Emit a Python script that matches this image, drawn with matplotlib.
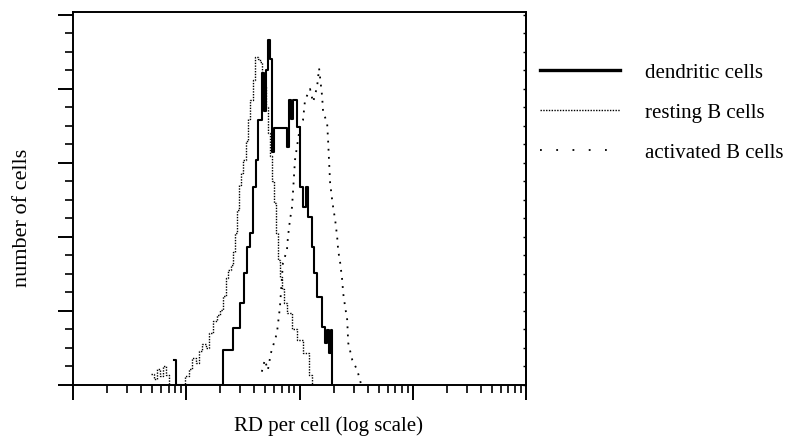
import matplotlib
matplotlib.use("Agg")
import numpy as np
from matplotlib import pyplot as plt
from matplotlib.lines import Line2D
from matplotlib.ticker import MultipleLocator, LogLocator, NullFormatter

plt.rcParams['font.family'] = ['Liberation Serif', 'DejaVu Serif']

# histogram bins: left bin edge (RD per cell) and number of cells
dendritic_x = [7.87, 8.19, 20.97, 25.72, 29.67, 32.19, 34.22, 36.39, 38.70, 41.14,
               42.85, 46.49, 48.43, 50.45, 52.55, 54.74, 57.03, 59.41, 77.46, 80.70,
               84.06, 87.57, 95.02, 101.0, 107.4, 114.2, 118.9, 129.1, 134.4, 143.0,
               158.4, 168.4, 175.4, 182.7, 190.3, 194.2]
dendritic_n = [3.4, 0, 4.7, 7.7, 11.1, 15.1, 18.6, 20.5, 26.8, 30.4,
               35.8, 42.2, 37.0, 42.6, 46.6, 44.0, 31.5, 34.7, 32.2, 38.5,
               36.0, 38.5, 34.9, 26.8, 24.1, 26.8, 22.7, 18.6, 15.1, 11.9,
               7.8, 5.7, 7.4, 4.3, 7.4, 0]

resting_x = [4.918, 5.229, 5.559, 5.909, 6.283, 6.680, 7.102, 9.847, 10.47, 11.13,
             12.08, 12.84, 13.65, 14.82, 15.75, 17.09, 18.55, 19.72, 20.97, 22.29,
             23.22, 24.69, 25.72, 26.79, 27.91, 29.07, 30.28, 31.54, 33.54, 34.94,
             36.39, 38.70, 40.31, 42.85, 44.63, 46.49, 48.43, 50.45, 52.55, 54.74,
             57.03, 59.41, 61.89, 64.47, 67.16, 69.96, 72.87, 77.46, 85.81, 95.02,
             107.4, 121.4, 129.1]
resting_n = [1.5, 0.8, 2.2, 1.2, 2.6, 1.4, 0, 1.2, 2.2, 3.6,
             3.0, 4.6, 5.6, 5.0, 7.0, 8.6, 9.4, 10.2, 12.0, 14.4,
             15.6, 16.2, 18.0, 20.6, 23.6, 27.0, 28.6, 30.4, 33.0, 36.0,
             38.5, 41.2, 44.3, 44.0, 43.6, 42.2, 40.3, 37.6, 34.0, 31.0,
             27.5, 24.6, 20.5, 16.9, 14.6, 13.0, 11.1, 9.7, 7.6, 6.1,
             4.3, 1.4, 0]

activated_x = [46.49, 49.43, 52.55, 55.88, 63.17, 67.16, 71.41, 77.46, 79.07, 82.37,
               85.81, 87.57, 91.23, 95.02, 101.0, 107.4, 111.9, 123.9, 131.8, 143.0,
               148.9, 158.4, 161.6, 175.4, 178.9, 182.7, 186.4, 194.2, 198.3, 206.5,
               215.1, 219.5, 228.7, 238.2, 243.1, 253.2, 263.8, 269.2, 292.2, 323.6,
               351.3]
activated_n = [1.8, 3.4, 2.0, 4.3, 7.0, 10.5, 16.5, 18.2, 20.0, 22.3,
               24.0, 26.0, 30.4, 32.2, 34.9, 35.8, 38.5, 40.0, 38.2, 40.3,
               42.8, 39.0, 36.9, 35.4, 33.0, 30.0, 27.3, 25.0, 24.0, 22.3,
               20.0, 18.2, 16.5, 14.2, 12.4, 10.5, 8.8, 5.7, 3.4, 2.0,
               0]

labels = ['dendritic cells', 'resting B cells', 'activated B cells']

fig = plt.figure(figsize=(7.88, 4.48), dpi=100)
ax = fig.add_axes([73 / 788, 63 / 448, 453 / 788, 373 / 448])

ax.step(dendritic_x, dendritic_n, where='post', color='black', lw=1.5)
ax.step(resting_x, resting_n, where='post', color='black', lw=1.0, linestyle=(0, (1, 1)))
ax.plot(activated_x, activated_n, color='black', lw=1.3, linestyle=(0, (1, 3.5)))

ax.set_xscale('log')
ax.set_xlim(1, 1e4)
ax.set_ylim(0, 50.4)
ax.xaxis.set_major_locator(LogLocator(base=10))
ax.xaxis.set_minor_locator(LogLocator(base=10, subs=np.arange(2, 10)))
ax.xaxis.set_major_formatter(NullFormatter())
ax.xaxis.set_minor_formatter(NullFormatter())
ax.yaxis.set_major_locator(MultipleLocator(10))
ax.yaxis.set_minor_locator(MultipleLocator(2.5))
ax.yaxis.set_major_formatter(NullFormatter())
ax.tick_params(which='major', direction='out', length=11, width=1.4)
ax.tick_params(which='minor', direction='out', length=5.5, width=1.2)
for s in ax.spines.values():
    s.set_linewidth(1.4)

# small inward ticks on the right frame
sec = ax.secondary_yaxis('right')
sec.yaxis.set_major_locator(MultipleLocator(2.5))
sec.yaxis.set_major_formatter(NullFormatter())
sec.tick_params(direction='in', length=2.5, width=1.0)
sec.spines['right'].set_linewidth(1.4)

fig.text(328 / 788, 1 - 426 / 448, 'RD per cell (log scale)', ha='center', va='center', fontsize=15)
fig.text(23 / 788, 1 - 218 / 448, 'number of cells', ha='center', va='center', rotation=90, fontsize=16)

handles = [Line2D([], [], color='black', lw=2.4),
           Line2D([], [], color='black', lw=1.0, linestyle=(0, (1, 1))),
           Line2D([], [], color='black', lw=1.3, linestyle=(0, (1, 8)))]
fig.legend(handles, labels, loc='upper left', bbox_to_anchor=(540 / 788, 1 - 63 / 448),
           frameon=False, fontsize=15, handlelength=3.85, handletextpad=1.2,
           labelspacing=0.98, borderpad=0, borderaxespad=0)

fig.savefig('out.png', dpi=100)
